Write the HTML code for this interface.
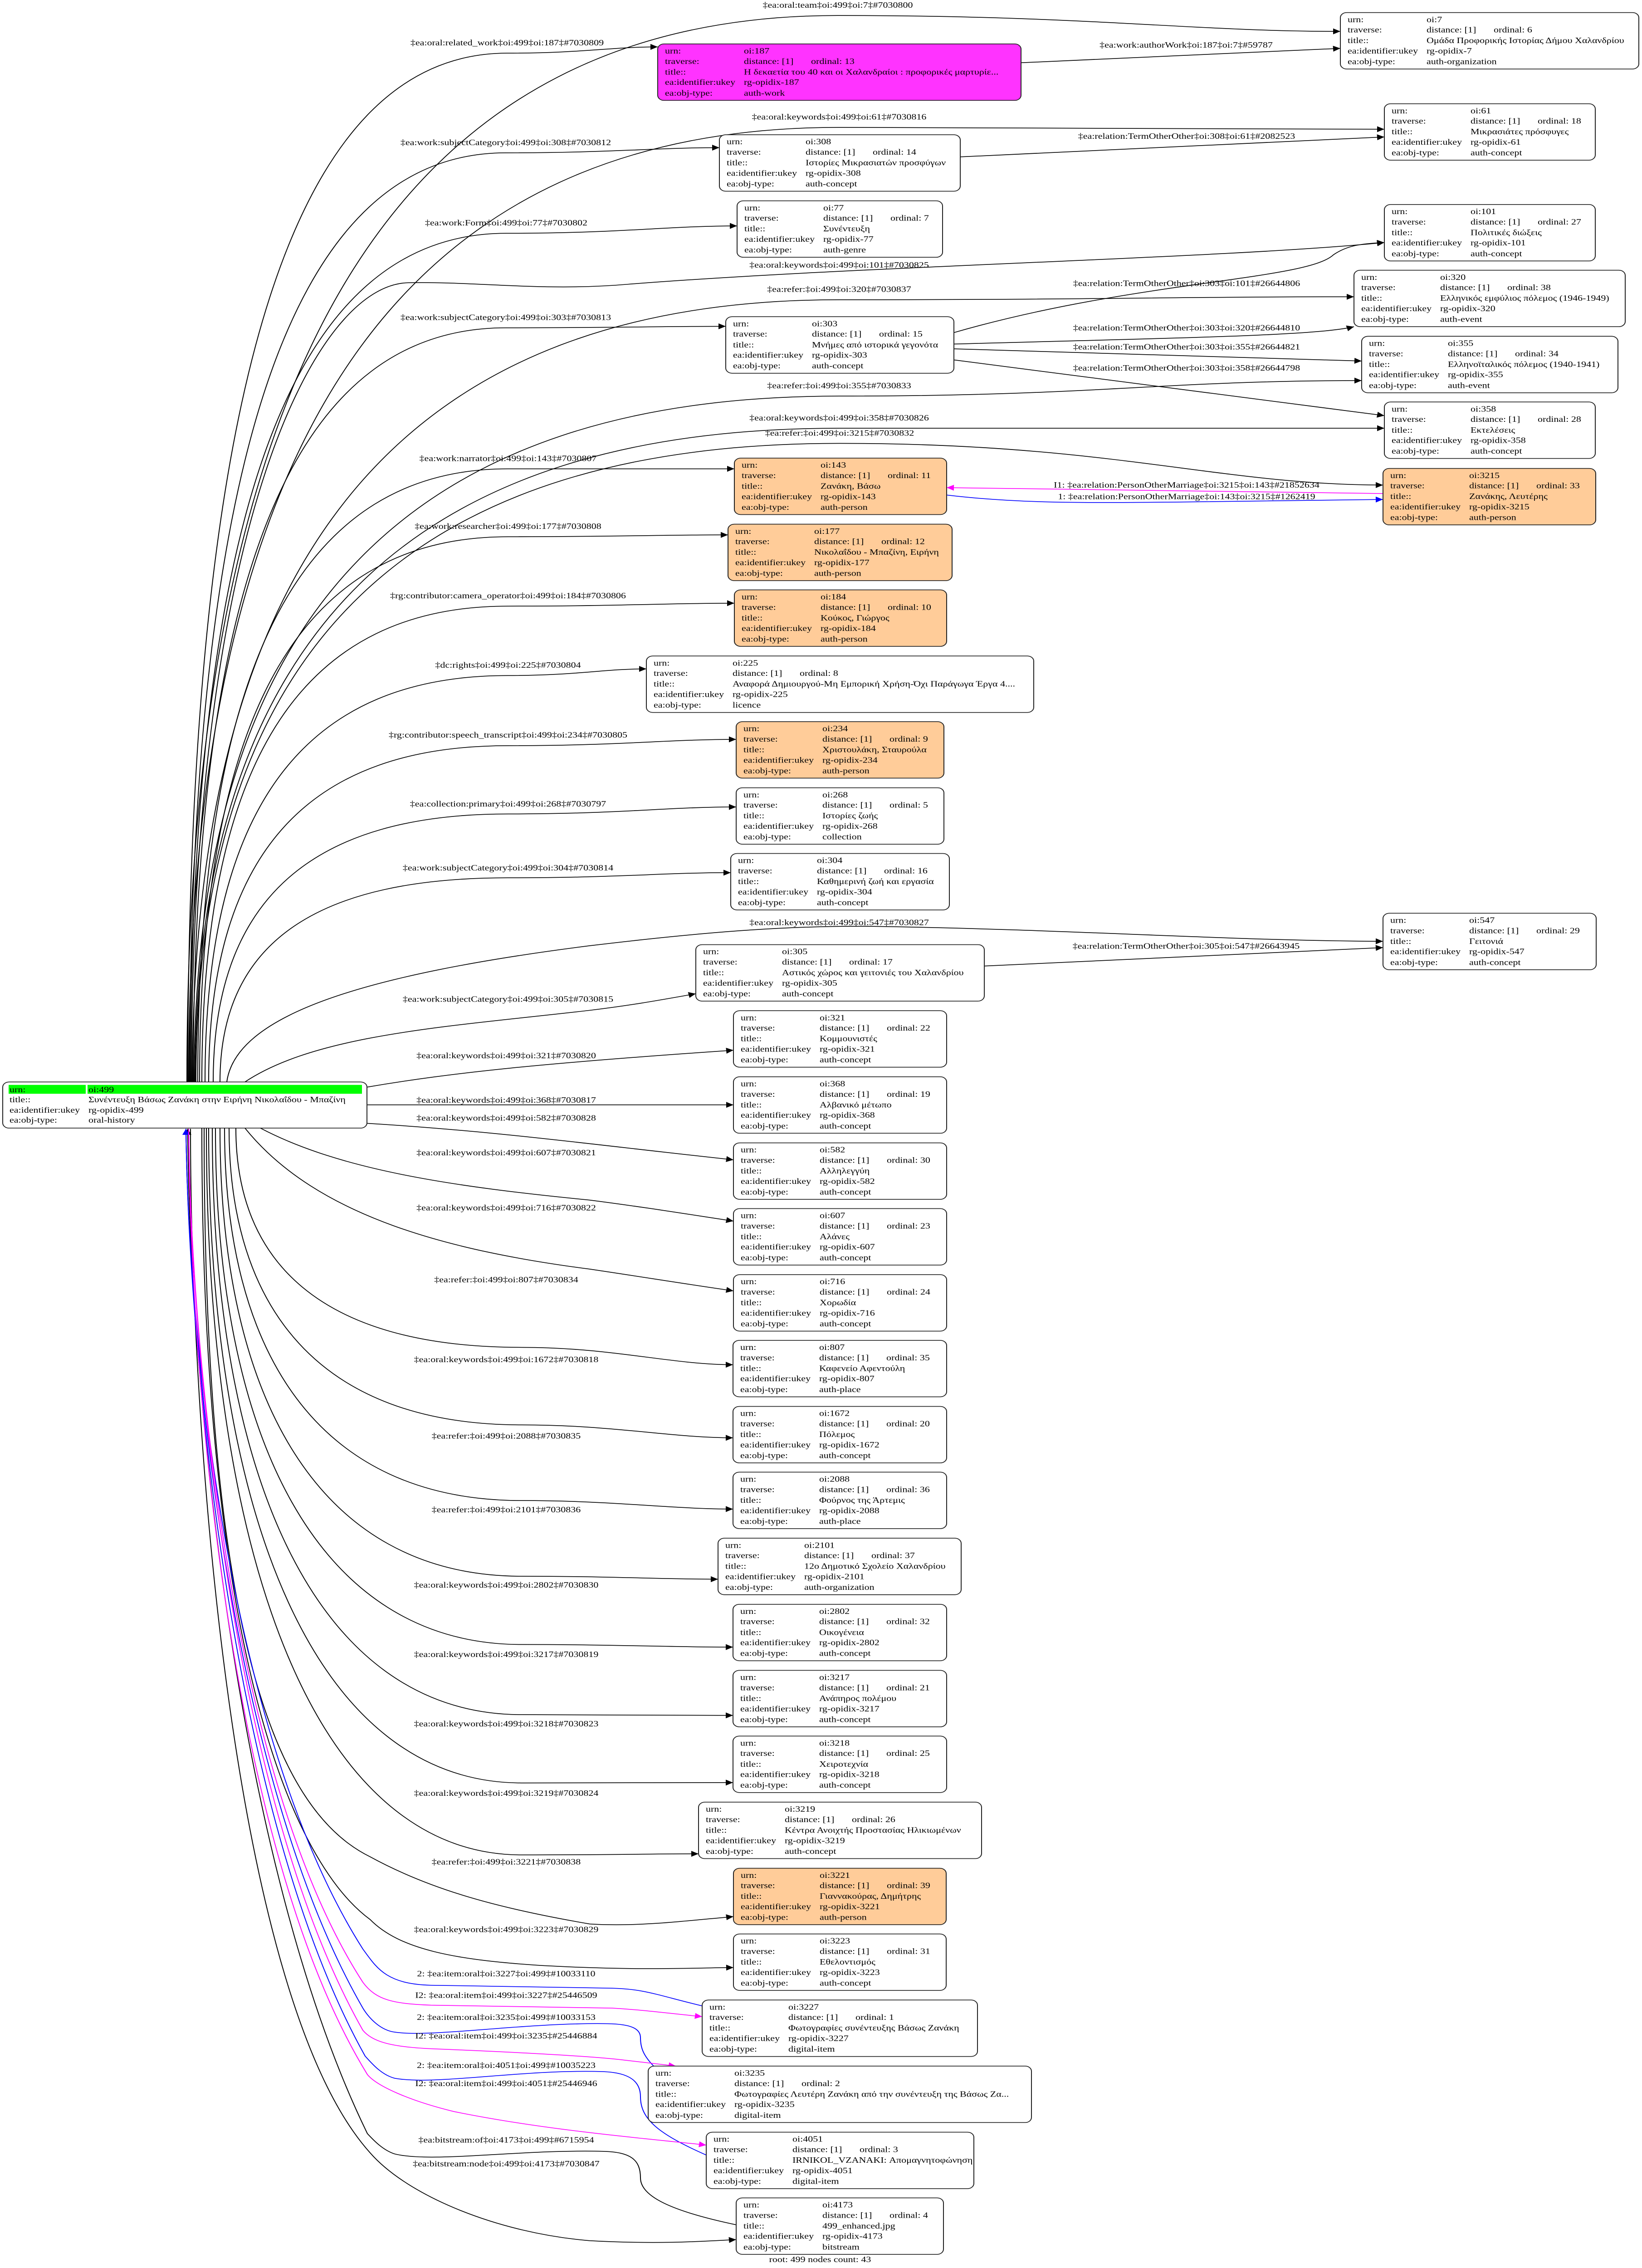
<!DOCTYPE html>
<html><head><meta charset="utf-8">
<style>
html,body{margin:0;padding:0;background:#fff;width:100%;height:100%;overflow:hidden;}
svg{display:block;position:fixed;left:0;top:0;width:100vw;height:100vh;}
text{font-family:"Liberation Serif","DejaVu Serif",serif;font-size:22px;fill:#000;}
.n rect.b{stroke:#222;stroke-width:2;}
.e{fill:none;stroke:#000;stroke-width:2;}
.bl{fill:none;stroke:#0000ff;stroke-width:2;}
.mg{fill:none;stroke:#ff00ff;stroke-width:2;}
.lc{text-anchor:middle;}
</style></head><body>
<svg viewBox="0 0 3620 6144" preserveAspectRatio="none" xmlns="http://www.w3.org/2000/svg">
<defs>
<marker id="ak" viewBox="0 0 10 10" refX="10" refY="5" markerWidth="22" markerHeight="16" markerUnits="userSpaceOnUse" orient="auto"><path d="M0,0L10,5L0,10z" fill="#000"/></marker>
<marker id="ab" viewBox="0 0 10 10" refX="10" refY="5" markerWidth="22" markerHeight="16" markerUnits="userSpaceOnUse" orient="auto"><path d="M0,0L10,5L0,10z" fill="#0000ff"/></marker>
<marker id="am" viewBox="0 0 10 10" refX="10" refY="5" markerWidth="22" markerHeight="16" markerUnits="userSpaceOnUse" orient="auto"><path d="M0,0L10,5L0,10z" fill="#ff00ff"/></marker>
</defs>
<rect width="3620" height="6144" fill="#fff"/>

<g marker-end="url(#ak)">
<path class="e" d="M412,2931 C412,909 914,42 1847,42 C2401,42 2623,85 2955,85"/>
<path class="e" d="M414,2931 C414,980 661,144 1118,144 C1284,144 1350,127 1450,127"/>
<path class="e" d="M416,2931 C416,1121 918,345 1850,345 C2451,345 2691,350 3052,350"/>
<path class="e" d="M418,2931 C418,1169 662,414 1115,414 C1350,414 1445,400 1586,400"/>
<path class="e" d="M420,2931 C420,1322 664,632 1116,632 C1370,632 1472,612 1625,612"/>
<path class="e" d="M422,2931 C422,1400 700,770 900,766 C1050,762 1200,790 1385,770 C1900,720 2700,700 3052,657"/>
<path class="e" d="M424,2931 C424,1448 923,812 1850,812 C2417,812 2584,804 2985,804"/>
<path class="e" d="M426,2931 C426,1501 667,888 1115,888 C1357,888 1446,884 1600,884"/>
<path class="e" d="M428,2931 C428,1630 926,1073 1850,1073 C2426,1073 2557,1031 3002,1031"/>
<path class="e" d="M430,2931 C430,1691 928,1160 1850,1160 C2450,1160 2690,1160 3052,1160"/>
<path class="e" d="M432,2931 C432,1720 929,1201 1851,1201 C2450,1201 2689,1314 3049,1314"/>
<path class="e" d="M436,2931 C436,1768 676,1270 1120,1270 C1370,1270 1470,1270 1619,1270"/>
<path class="e" d="M440,2931 C440,1897 678,1454 1120,1454 C1362,1454 1450,1449 1605,1449"/>
<path class="e" d="M445,2931 C445,2029 681,1642 1120,1642 C1370,1642 1470,1634 1619,1634"/>
<path class="e" d="M452,2931 C452,2160 686,1830 1120,1830 C1272,1830 1330,1812 1425,1812"/>
<path class="e" d="M460,2931 C460,2293 691,2020 1120,2020 C1371,2020 1470,2003 1623,2003"/>
<path class="e" d="M470,2931 C470,2423 698,2205 1120,2205 C1371,2205 1470,2186 1623,2186"/>
<path class="e" d="M485,2931 C485,2544 708,2378 1120,2378 C1365,2378 1460,2364 1611,2364"/>
<path class="e" d="M500,2931 C520,2750 800,2640 1300,2562 C1550,2525 1750,2505 1950,2510 C2400,2520 2700,2548 3049,2550"/>
<path class="e" d="M540,2931 C700,2800 1000,2780 1300,2737 C1400,2722 1460,2708 1534,2692"/>
<path class="e" d="M2251,170 L2955,131"/>
<path class="e" d="M2117,425 L3052,371"/>
<path class="e" d="M2103,901 C2500,760 2880,760 2940,690 C2970,665 3000,660 3052,657"/>
<path class="e" d="M2103,932 C2600,915 2900,910 2985,885"/>
<path class="e" d="M2103,945 L3002,978"/>
<path class="e" d="M2103,975 L3052,1126"/>
<path class="e" d="M2170,2617 L3049,2567"/>
<path class="e" d="M809,2945 C1000,2905 1200,2880 1617,2845"/>
<path class="e" d="M809,2993 L1617,2993"/>
<path class="e" d="M809,3043 C1100,3065 1300,3100 1617,3142"/>
<path class="e" d="M574,3056 C750,3170 1000,3215 1300,3251 C1420,3270 1520,3290 1617,3308"/>
<path class="e" d="M540,3056 C700,3300 1000,3390 1300,3438 C1420,3460 1520,3480 1617,3497"/>
<path class="e" d="M520,3056 C520,3412 700,3650 1150,3650 C1350,3650 1480,3697 1616,3697"/>
<path class="e" d="M505,3056 C505,3538 700,3860 1150,3860 C1350,3860 1480,3895 1616,3895"/>
<path class="e" d="M495,3056 C495,3663 700,4065 1150,4065 C1350,4065 1480,4088 1616,4088"/>
<path class="e" d="M485,3056 C485,3784 700,4270 1150,4270 C1350,4270 1450,4278 1583,4278"/>
<path class="e" d="M475,3056 C475,3895 700,4455 1150,4455 C1350,4455 1480,4462 1616,4462"/>
<path class="e" d="M468,3056 C468,4009 700,4645 1150,4645 C1350,4645 1480,4647 1616,4647"/>
<path class="e" d="M460,3056 C460,4120 700,4830 1150,4830 C1350,4830 1450,4829 1616,4829"/>
<path class="e" d="M455,3056 C455,4237 700,5025 1150,5025 C1350,5025 1420,5022 1540,5022"/>
<path class="e" d="M450,3056 C450,4400 600,4900 816,5030 C950,5120 1100,5170 1300,5212 C1400,5220 1500,5205 1617,5192"/>
<path class="e" d="M445,3056 C445,4500 650,5050 816,5200 C880,5280 1000,5310 1200,5325 C1400,5338 1500,5332 1617,5330"/>
<path class="e" d="M420,3058 C420,3800 500,5400 816,5832 C900,5950 1100,6050 1300,6070 C1450,6080 1550,6072 1623,6067"/>
<path class="e" d="M1623,6027 C1480,5990 1412,5950 1412,5900 C1412,5850 1390,5830 1330,5828 C1150,5822 950,5860 870,5835 C845,5825 825,5800 810,5780 C500,5000 415,3600 414,3058"/>
</g>
<g marker-end="url(#ab)">
<path class="bl" d="M1548,5434 C1450,5405 1420,5388 1350,5386 L950,5378 C850,5375 830,5330 800,5280 C500,4700 415,3600 410,3058"/>
<path class="bl" d="M1441,5597 C1420,5570 1412,5550 1412,5520 C1412,5490 1380,5482 1330,5482 C1150,5480 950,5520 870,5505 C840,5500 815,5470 800,5440 C500,4800 415,3600 410,3058"/>
<path class="bl" d="M1557,5838 C1450,5780 1412,5740 1412,5680 C1412,5640 1390,5615 1330,5612 C1150,5605 960,5650 870,5630 C840,5620 820,5590 805,5570 C500,4900 415,3600 410,3058"/>
<path class="bl" d="M2087,1341 C2250,1365 2400,1362 2600,1360 L3049,1353"/>
</g>
<g marker-end="url(#am)">
<path class="mg" d="M416,3058 C420,3600 500,4800 800,5370 C830,5420 870,5428 950,5432 L1350,5440 C1420,5445 1480,5455 1548,5463"/>
<path class="mg" d="M416,3058 C420,3600 500,4850 800,5500 C820,5530 860,5545 950,5550 C1150,5560 1300,5570 1371,5580 L1490,5597"/>
<path class="mg" d="M416,3058 C420,3700 500,5000 810,5620 C830,5650 900,5690 1000,5720 C1200,5770 1400,5790 1557,5811"/>
<path class="mg" d="M3049,1337 L2087,1321"/>
</g>

<g class="lc">
<text x="1847" y="21">‡ea:oral:team‡oi:499‡oi:7‡#7030800</text>
<text x="1118" y="123">‡ea:oral:related_work‡oi:499‡oi:187‡#7030809</text>
<text x="2615" y="129">‡ea:work:authorWork‡oi:187‡oi:7‡#59787</text>
<text x="1850" y="324">‡ea:oral:keywords‡oi:499‡oi:61‡#7030816</text>
<text x="2616" y="376">‡ea:relation:TermOtherOther‡oi:308‡oi:61‡#2082523</text>
<text x="1115" y="393">‡ea:work:subjectCategory‡oi:499‡oi:308‡#7030812</text>
<text x="1116" y="611">‡ea:work:Form‡oi:499‡oi:77‡#7030802</text>
<text x="1850" y="725">‡ea:oral:keywords‡oi:499‡oi:101‡#7030825</text>
<text x="2616" y="775">‡ea:relation:TermOtherOther‡oi:303‡oi:101‡#26644806</text>
<text x="1850" y="791">‡ea:refer:‡oi:499‡oi:320‡#7030837</text>
<text x="1115" y="867">‡ea:work:subjectCategory‡oi:499‡oi:303‡#7030813</text>
<text x="2616" y="895">‡ea:relation:TermOtherOther‡oi:303‡oi:320‡#26644810</text>
<text x="2616" y="947">‡ea:relation:TermOtherOther‡oi:303‡oi:355‡#26644821</text>
<text x="2616" y="1004">‡ea:relation:TermOtherOther‡oi:303‡oi:358‡#26644798</text>
<text x="1850" y="1052">‡ea:refer:‡oi:499‡oi:355‡#7030833</text>
<text x="1850" y="1139">‡ea:oral:keywords‡oi:499‡oi:358‡#7030826</text>
<text x="1851" y="1180">‡ea:refer:‡oi:499‡oi:3215‡#7030832</text>
<text x="1120" y="1249">‡ea:work:narrator‡oi:499‡oi:143‡#7030807</text>
<text x="2616" y="1321">I1: ‡ea:relation:PersonOtherMarriage‡oi:3215‡oi:143‡#21852634</text>
<text x="2616" y="1352">1: ‡ea:relation:PersonOtherMarriage‡oi:143‡oi:3215‡#1262419</text>
<text x="1120" y="1433">‡ea:work:researcher‡oi:499‡oi:177‡#7030808</text>
<text x="1120" y="1621">‡rg:contributor:camera_operator‡oi:499‡oi:184‡#7030806</text>
<text x="1120" y="1809">‡dc:rights‡oi:499‡oi:225‡#7030804</text>
<text x="1120" y="1998">‡rg:contributor:speech_transcript‡oi:499‡oi:234‡#7030805</text>
<text x="1120" y="2185">‡ea:collection:primary‡oi:499‡oi:268‡#7030797</text>
<text x="1120" y="2358">‡ea:work:subjectCategory‡oi:499‡oi:304‡#7030814</text>
<text x="1850" y="2506">‡ea:oral:keywords‡oi:499‡oi:547‡#7030827</text>
<text x="2615" y="2570">‡ea:relation:TermOtherOther‡oi:305‡oi:547‡#26643945</text>
<text x="1120" y="2714">‡ea:work:subjectCategory‡oi:499‡oi:305‡#7030815</text>
<text x="1116" y="2867">‡ea:oral:keywords‡oi:499‡oi:321‡#7030820</text>
<text x="1116" y="2987">‡ea:oral:keywords‡oi:499‡oi:368‡#7030817</text>
<text x="1116" y="3036">‡ea:oral:keywords‡oi:499‡oi:582‡#7030828</text>
<text x="1116" y="3130">‡ea:oral:keywords‡oi:499‡oi:607‡#7030821</text>
<text x="1116" y="3279">‡ea:oral:keywords‡oi:499‡oi:716‡#7030822</text>
<text x="1116" y="3474">‡ea:refer:‡oi:499‡oi:807‡#7030834</text>
<text x="1116" y="3690">‡ea:oral:keywords‡oi:499‡oi:1672‡#7030818</text>
<text x="1116" y="3897">‡ea:refer:‡oi:499‡oi:2088‡#7030835</text>
<text x="1116" y="4097">‡ea:refer:‡oi:499‡oi:2101‡#7030836</text>
<text x="1116" y="4301">‡ea:oral:keywords‡oi:499‡oi:2802‡#7030830</text>
<text x="1116" y="4489">‡ea:oral:keywords‡oi:499‡oi:3217‡#7030819</text>
<text x="1116" y="4677">‡ea:oral:keywords‡oi:499‡oi:3218‡#7030823</text>
<text x="1116" y="4865">‡ea:oral:keywords‡oi:499‡oi:3219‡#7030824</text>
<text x="1116" y="5051">‡ea:refer:‡oi:499‡oi:3221‡#7030838</text>
<text x="1116" y="5234">‡ea:oral:keywords‡oi:499‡oi:3223‡#7030829</text>
<text x="1116" y="5354">2: ‡ea:item:oral‡oi:3227‡oi:499‡#10033110</text>
<text x="1116" y="5412">I2: ‡ea:oral:item‡oi:499‡oi:3227‡#25446509</text>
<text x="1116" y="5472">2: ‡ea:item:oral‡oi:3235‡oi:499‡#10033153</text>
<text x="1116" y="5522">I2: ‡ea:oral:item‡oi:499‡oi:3235‡#25446884</text>
<text x="1116" y="5602">2: ‡ea:item:oral‡oi:4051‡oi:499‡#10035223</text>
<text x="1116" y="5651">I2: ‡ea:oral:item‡oi:499‡oi:4051‡#25446946</text>
<text x="1116" y="5804">‡ea:bitstream:of‡oi:4173‡oi:499‡#6715954</text>
<text x="1116" y="5869">‡ea:bitstream:node‡oi:499‡oi:4173‡#7030847</text>
<text x="1808" y="6128">root: 499 nodes count: 43</text>
</g>

<g class="n" transform="translate(6,2931)">
<rect class="b" x="0" y="0" width="803" height="125" rx="14" fill="#fff"/>
<rect x="13" y="8" width="170" height="24" fill="#00ff00"/>
<rect x="187" y="8" width="605" height="24" fill="#00ff00"/>
<text x="15" y="28">urn:</text><text x="189" y="28">oi:499</text>
<text x="15" y="55">title::</text><text x="189" y="55">Συνέντευξη Βάσως Ζανάκη στην Ειρήνη Νικολαΐδου - Μπαζίνη</text>
<text x="15" y="83">ea:identifier:ukey</text><text x="189" y="83">rg-opidix-499</text>
<text x="15" y="110">ea:obj-type:</text><text x="189" y="110">oral-history</text>
</g>

<g class="n" transform="translate(2955,34)"><rect class="b" width="658" height="153" rx="14" fill="#fff"/><text x="16" y="26">urn:</text><text x="190" y="26">oi:7</text><text x="16" y="54">traverse:</text><text x="190" y="54">distance: [1]</text><text x="338" y="54">ordinal: 6</text><text x="16" y="83">title::</text><text x="190" y="83">Ομάδα Προφορικής Ιστορίας Δήμου Χαλανδρίου</text><text x="16" y="111">ea:identifier:ukey</text><text x="190" y="111">rg-opidix-7</text><text x="16" y="140">ea:obj-type:</text><text x="190" y="140">auth-organization</text></g>

<g class="n" transform="translate(1450,119)"><rect class="b" width="801" height="153" rx="14" fill="#ff33ff"/><text x="16" y="26">urn:</text><text x="190" y="26">oi:187</text><text x="16" y="54">traverse:</text><text x="190" y="54">distance: [1]</text><text x="338" y="54">ordinal: 13</text><text x="16" y="83">title::</text><text x="190" y="83">Η δεκαετία του 40 και οι Χαλανδραίοι : προφορικές μαρτυρίε...</text><text x="16" y="111">ea:identifier:ukey</text><text x="190" y="111">rg-opidix-187</text><text x="16" y="140">ea:obj-type:</text><text x="190" y="140">auth-work</text></g>

<g class="n" transform="translate(3052,281)"><rect class="b" width="465" height="153" rx="14" fill="#fff"/><text x="16" y="26">urn:</text><text x="190" y="26">oi:61</text><text x="16" y="54">traverse:</text><text x="190" y="54">distance: [1]</text><text x="338" y="54">ordinal: 18</text><text x="16" y="83">title::</text><text x="190" y="83">Μικρασιάτες πρόσφυγες</text><text x="16" y="111">ea:identifier:ukey</text><text x="190" y="111">rg-opidix-61</text><text x="16" y="140">ea:obj-type:</text><text x="190" y="140">auth-concept</text></g>

<g class="n" transform="translate(1586,365)"><rect class="b" width="531" height="153" rx="14" fill="#fff"/><text x="16" y="26">urn:</text><text x="190" y="26">oi:308</text><text x="16" y="54">traverse:</text><text x="190" y="54">distance: [1]</text><text x="338" y="54">ordinal: 14</text><text x="16" y="83">title::</text><text x="190" y="83">Ιστορίες Μικρασιατών προσφύγων</text><text x="16" y="111">ea:identifier:ukey</text><text x="190" y="111">rg-opidix-308</text><text x="16" y="140">ea:obj-type:</text><text x="190" y="140">auth-concept</text></g>

<g class="n" transform="translate(1625,544)"><rect class="b" width="453" height="153" rx="14" fill="#fff"/><text x="16" y="26">urn:</text><text x="190" y="26">oi:77</text><text x="16" y="54">traverse:</text><text x="190" y="54">distance: [1]</text><text x="338" y="54">ordinal: 7</text><text x="16" y="83">title::</text><text x="190" y="83">Συνέντευξη</text><text x="16" y="111">ea:identifier:ukey</text><text x="190" y="111">rg-opidix-77</text><text x="16" y="140">ea:obj-type:</text><text x="190" y="140">auth-genre</text></g>

<g class="n" transform="translate(3052,554)"><rect class="b" width="465" height="153" rx="14" fill="#fff"/><text x="16" y="26">urn:</text><text x="190" y="26">oi:101</text><text x="16" y="54">traverse:</text><text x="190" y="54">distance: [1]</text><text x="338" y="54">ordinal: 27</text><text x="16" y="83">title::</text><text x="190" y="83">Πολιτικές διώξεις</text><text x="16" y="111">ea:identifier:ukey</text><text x="190" y="111">rg-opidix-101</text><text x="16" y="140">ea:obj-type:</text><text x="190" y="140">auth-concept</text></g>

<g class="n" transform="translate(2985,732)"><rect class="b" width="598" height="153" rx="14" fill="#fff"/><text x="16" y="26">urn:</text><text x="190" y="26">oi:320</text><text x="16" y="54">traverse:</text><text x="190" y="54">distance: [1]</text><text x="338" y="54">ordinal: 38</text><text x="16" y="83">title::</text><text x="190" y="83">Ελληνικός εμφύλιος πόλεμος (1946-1949)</text><text x="16" y="111">ea:identifier:ukey</text><text x="190" y="111">rg-opidix-320</text><text x="16" y="140">ea:obj-type:</text><text x="190" y="140">auth-event</text></g>

<g class="n" transform="translate(1600,858)"><rect class="b" width="503" height="153" rx="14" fill="#fff"/><text x="16" y="26">urn:</text><text x="190" y="26">oi:303</text><text x="16" y="54">traverse:</text><text x="190" y="54">distance: [1]</text><text x="338" y="54">ordinal: 15</text><text x="16" y="83">title::</text><text x="190" y="83">Μνήμες από ιστορικά γεγονότα</text><text x="16" y="111">ea:identifier:ukey</text><text x="190" y="111">rg-opidix-303</text><text x="16" y="140">ea:obj-type:</text><text x="190" y="140">auth-concept</text></g>

<g class="n" transform="translate(3002,911)"><rect class="b" width="565" height="153" rx="14" fill="#fff"/><text x="16" y="26">urn:</text><text x="190" y="26">oi:355</text><text x="16" y="54">traverse:</text><text x="190" y="54">distance: [1]</text><text x="338" y="54">ordinal: 34</text><text x="16" y="83">title::</text><text x="190" y="83">Ελληνοϊταλικός πόλεμος (1940-1941)</text><text x="16" y="111">ea:identifier:ukey</text><text x="190" y="111">rg-opidix-355</text><text x="16" y="140">ea:obj-type:</text><text x="190" y="140">auth-event</text></g>

<g class="n" transform="translate(3052,1089)"><rect class="b" width="465" height="153" rx="14" fill="#fff"/><text x="16" y="26">urn:</text><text x="190" y="26">oi:358</text><text x="16" y="54">traverse:</text><text x="190" y="54">distance: [1]</text><text x="338" y="54">ordinal: 28</text><text x="16" y="83">title::</text><text x="190" y="83">Εκτελέσεις</text><text x="16" y="111">ea:identifier:ukey</text><text x="190" y="111">rg-opidix-358</text><text x="16" y="140">ea:obj-type:</text><text x="190" y="140">auth-concept</text></g>

<g class="n" transform="translate(3049,1269)"><rect class="b" width="469" height="153" rx="14" fill="#ffcc99"/><text x="16" y="26">urn:</text><text x="190" y="26">oi:3215</text><text x="16" y="54">traverse:</text><text x="190" y="54">distance: [1]</text><text x="338" y="54">ordinal: 33</text><text x="16" y="83">title::</text><text x="190" y="83">Ζανάκης, Λευτέρης</text><text x="16" y="111">ea:identifier:ukey</text><text x="190" y="111">rg-opidix-3215</text><text x="16" y="140">ea:obj-type:</text><text x="190" y="140">auth-person</text></g>

<g class="n" transform="translate(1619,1241)"><rect class="b" width="468" height="153" rx="14" fill="#ffcc99"/><text x="16" y="26">urn:</text><text x="190" y="26">oi:143</text><text x="16" y="54">traverse:</text><text x="190" y="54">distance: [1]</text><text x="338" y="54">ordinal: 11</text><text x="16" y="83">title::</text><text x="190" y="83">Ζανάκη, Βάσω</text><text x="16" y="111">ea:identifier:ukey</text><text x="190" y="111">rg-opidix-143</text><text x="16" y="140">ea:obj-type:</text><text x="190" y="140">auth-person</text></g>

<g class="n" transform="translate(1605,1420)"><rect class="b" width="494" height="153" rx="14" fill="#ffcc99"/><text x="16" y="26">urn:</text><text x="190" y="26">oi:177</text><text x="16" y="54">traverse:</text><text x="190" y="54">distance: [1]</text><text x="338" y="54">ordinal: 12</text><text x="16" y="83">title::</text><text x="190" y="83">Νικολαΐδου - Μπαζίνη, Ειρήνη</text><text x="16" y="111">ea:identifier:ukey</text><text x="190" y="111">rg-opidix-177</text><text x="16" y="140">ea:obj-type:</text><text x="190" y="140">auth-person</text></g>

<g class="n" transform="translate(1619,1598)"><rect class="b" width="468" height="153" rx="14" fill="#ffcc99"/><text x="16" y="26">urn:</text><text x="190" y="26">oi:184</text><text x="16" y="54">traverse:</text><text x="190" y="54">distance: [1]</text><text x="338" y="54">ordinal: 10</text><text x="16" y="83">title::</text><text x="190" y="83">Κούκος, Γιώργος</text><text x="16" y="111">ea:identifier:ukey</text><text x="190" y="111">rg-opidix-184</text><text x="16" y="140">ea:obj-type:</text><text x="190" y="140">auth-person</text></g>

<g class="n" transform="translate(1425,1777)"><rect class="b" width="854" height="153" rx="14" fill="#fff"/><text x="16" y="26">urn:</text><text x="190" y="26">oi:225</text><text x="16" y="54">traverse:</text><text x="190" y="54">distance: [1]</text><text x="338" y="54">ordinal: 8</text><text x="16" y="83">title::</text><text x="190" y="83">Αναφορά Δημιουργού-Μη Εμπορική Χρήση-Όχι Παράγωγα Έργα 4....</text><text x="16" y="111">ea:identifier:ukey</text><text x="190" y="111">rg-opidix-225</text><text x="16" y="140">ea:obj-type:</text><text x="190" y="140">licence</text></g>

<g class="n" transform="translate(1623,1955)"><rect class="b" width="458" height="153" rx="14" fill="#ffcc99"/><text x="16" y="26">urn:</text><text x="190" y="26">oi:234</text><text x="16" y="54">traverse:</text><text x="190" y="54">distance: [1]</text><text x="338" y="54">ordinal: 9</text><text x="16" y="83">title::</text><text x="190" y="83">Χριστουλάκη, Σταυρούλα</text><text x="16" y="111">ea:identifier:ukey</text><text x="190" y="111">rg-opidix-234</text><text x="16" y="140">ea:obj-type:</text><text x="190" y="140">auth-person</text></g>

<g class="n" transform="translate(1623,2134)"><rect class="b" width="458" height="153" rx="14" fill="#fff"/><text x="16" y="26">urn:</text><text x="190" y="26">oi:268</text><text x="16" y="54">traverse:</text><text x="190" y="54">distance: [1]</text><text x="338" y="54">ordinal: 5</text><text x="16" y="83">title::</text><text x="190" y="83">Ιστορίες ζωής</text><text x="16" y="111">ea:identifier:ukey</text><text x="190" y="111">rg-opidix-268</text><text x="16" y="140">ea:obj-type:</text><text x="190" y="140">collection</text></g>

<g class="n" transform="translate(1611,2312)"><rect class="b" width="482" height="153" rx="14" fill="#fff"/><text x="16" y="26">urn:</text><text x="190" y="26">oi:304</text><text x="16" y="54">traverse:</text><text x="190" y="54">distance: [1]</text><text x="338" y="54">ordinal: 16</text><text x="16" y="83">title::</text><text x="190" y="83">Καθημερινή ζωή και εργασία</text><text x="16" y="111">ea:identifier:ukey</text><text x="190" y="111">rg-opidix-304</text><text x="16" y="140">ea:obj-type:</text><text x="190" y="140">auth-concept</text></g>

<g class="n" transform="translate(3049,2474)"><rect class="b" width="470" height="153" rx="14" fill="#fff"/><text x="16" y="26">urn:</text><text x="190" y="26">oi:547</text><text x="16" y="54">traverse:</text><text x="190" y="54">distance: [1]</text><text x="338" y="54">ordinal: 29</text><text x="16" y="83">title::</text><text x="190" y="83">Γειτονιά</text><text x="16" y="111">ea:identifier:ukey</text><text x="190" y="111">rg-opidix-547</text><text x="16" y="140">ea:obj-type:</text><text x="190" y="140">auth-concept</text></g>

<g class="n" transform="translate(1534,2559)"><rect class="b" width="636" height="153" rx="14" fill="#fff"/><text x="16" y="26">urn:</text><text x="190" y="26">oi:305</text><text x="16" y="54">traverse:</text><text x="190" y="54">distance: [1]</text><text x="338" y="54">ordinal: 17</text><text x="16" y="83">title::</text><text x="190" y="83">Αστικός χώρος και γειτονιές του Χαλανδρίου</text><text x="16" y="111">ea:identifier:ukey</text><text x="190" y="111">rg-opidix-305</text><text x="16" y="140">ea:obj-type:</text><text x="190" y="140">auth-concept</text></g>

<g class="n" transform="translate(1617,2738)"><rect class="b" width="470" height="153" rx="14" fill="#fff"/><text x="16" y="26">urn:</text><text x="190" y="26">oi:321</text><text x="16" y="54">traverse:</text><text x="190" y="54">distance: [1]</text><text x="338" y="54">ordinal: 22</text><text x="16" y="83">title::</text><text x="190" y="83">Κομμουνιστές</text><text x="16" y="111">ea:identifier:ukey</text><text x="190" y="111">rg-opidix-321</text><text x="16" y="140">ea:obj-type:</text><text x="190" y="140">auth-concept</text></g>

<g class="n" transform="translate(1617,2917)"><rect class="b" width="470" height="153" rx="14" fill="#fff"/><text x="16" y="26">urn:</text><text x="190" y="26">oi:368</text><text x="16" y="54">traverse:</text><text x="190" y="54">distance: [1]</text><text x="338" y="54">ordinal: 19</text><text x="16" y="83">title::</text><text x="190" y="83">Αλβανικό μέτωπο</text><text x="16" y="111">ea:identifier:ukey</text><text x="190" y="111">rg-opidix-368</text><text x="16" y="140">ea:obj-type:</text><text x="190" y="140">auth-concept</text></g>

<g class="n" transform="translate(1617,3096)"><rect class="b" width="470" height="153" rx="14" fill="#fff"/><text x="16" y="26">urn:</text><text x="190" y="26">oi:582</text><text x="16" y="54">traverse:</text><text x="190" y="54">distance: [1]</text><text x="338" y="54">ordinal: 30</text><text x="16" y="83">title::</text><text x="190" y="83">Αλληλεγγύη</text><text x="16" y="111">ea:identifier:ukey</text><text x="190" y="111">rg-opidix-582</text><text x="16" y="140">ea:obj-type:</text><text x="190" y="140">auth-concept</text></g>

<g class="n" transform="translate(1617,3274)"><rect class="b" width="470" height="153" rx="14" fill="#fff"/><text x="16" y="26">urn:</text><text x="190" y="26">oi:607</text><text x="16" y="54">traverse:</text><text x="190" y="54">distance: [1]</text><text x="338" y="54">ordinal: 23</text><text x="16" y="83">title::</text><text x="190" y="83">Αλάνες</text><text x="16" y="111">ea:identifier:ukey</text><text x="190" y="111">rg-opidix-607</text><text x="16" y="140">ea:obj-type:</text><text x="190" y="140">auth-concept</text></g>

<g class="n" transform="translate(1617,3453)"><rect class="b" width="470" height="153" rx="14" fill="#fff"/><text x="16" y="26">urn:</text><text x="190" y="26">oi:716</text><text x="16" y="54">traverse:</text><text x="190" y="54">distance: [1]</text><text x="338" y="54">ordinal: 24</text><text x="16" y="83">title::</text><text x="190" y="83">Χορωδία</text><text x="16" y="111">ea:identifier:ukey</text><text x="190" y="111">rg-opidix-716</text><text x="16" y="140">ea:obj-type:</text><text x="190" y="140">auth-concept</text></g>

<g class="n" transform="translate(1616,3631)"><rect class="b" width="471" height="153" rx="14" fill="#fff"/><text x="16" y="26">urn:</text><text x="190" y="26">oi:807</text><text x="16" y="54">traverse:</text><text x="190" y="54">distance: [1]</text><text x="338" y="54">ordinal: 35</text><text x="16" y="83">title::</text><text x="190" y="83">Καφενείο Αφεντούλη</text><text x="16" y="111">ea:identifier:ukey</text><text x="190" y="111">rg-opidix-807</text><text x="16" y="140">ea:obj-type:</text><text x="190" y="140">auth-place</text></g>

<g class="n" transform="translate(1616,3810)"><rect class="b" width="471" height="153" rx="14" fill="#fff"/><text x="16" y="26">urn:</text><text x="190" y="26">oi:1672</text><text x="16" y="54">traverse:</text><text x="190" y="54">distance: [1]</text><text x="338" y="54">ordinal: 20</text><text x="16" y="83">title::</text><text x="190" y="83">Πόλεμος</text><text x="16" y="111">ea:identifier:ukey</text><text x="190" y="111">rg-opidix-1672</text><text x="16" y="140">ea:obj-type:</text><text x="190" y="140">auth-concept</text></g>

<g class="n" transform="translate(1616,3988)"><rect class="b" width="471" height="153" rx="14" fill="#fff"/><text x="16" y="26">urn:</text><text x="190" y="26">oi:2088</text><text x="16" y="54">traverse:</text><text x="190" y="54">distance: [1]</text><text x="338" y="54">ordinal: 36</text><text x="16" y="83">title::</text><text x="190" y="83">Φούρνος της  Άρτεμις</text><text x="16" y="111">ea:identifier:ukey</text><text x="190" y="111">rg-opidix-2088</text><text x="16" y="140">ea:obj-type:</text><text x="190" y="140">auth-place</text></g>

<g class="n" transform="translate(1583,4167)"><rect class="b" width="536" height="153" rx="14" fill="#fff"/><text x="16" y="26">urn:</text><text x="190" y="26">oi:2101</text><text x="16" y="54">traverse:</text><text x="190" y="54">distance: [1]</text><text x="338" y="54">ordinal: 37</text><text x="16" y="83">title::</text><text x="190" y="83">12ο Δημοτικό Σχολείο Χαλανδρίου</text><text x="16" y="111">ea:identifier:ukey</text><text x="190" y="111">rg-opidix-2101</text><text x="16" y="140">ea:obj-type:</text><text x="190" y="140">auth-organization</text></g>

<g class="n" transform="translate(1616,4346)"><rect class="b" width="471" height="153" rx="14" fill="#fff"/><text x="16" y="26">urn:</text><text x="190" y="26">oi:2802</text><text x="16" y="54">traverse:</text><text x="190" y="54">distance: [1]</text><text x="338" y="54">ordinal: 32</text><text x="16" y="83">title::</text><text x="190" y="83">Οικογένεια</text><text x="16" y="111">ea:identifier:ukey</text><text x="190" y="111">rg-opidix-2802</text><text x="16" y="140">ea:obj-type:</text><text x="190" y="140">auth-concept</text></g>

<g class="n" transform="translate(1616,4525)"><rect class="b" width="471" height="153" rx="14" fill="#fff"/><text x="16" y="26">urn:</text><text x="190" y="26">oi:3217</text><text x="16" y="54">traverse:</text><text x="190" y="54">distance: [1]</text><text x="338" y="54">ordinal: 21</text><text x="16" y="83">title::</text><text x="190" y="83">Ανάπηρος πολέμου</text><text x="16" y="111">ea:identifier:ukey</text><text x="190" y="111">rg-opidix-3217</text><text x="16" y="140">ea:obj-type:</text><text x="190" y="140">auth-concept</text></g>

<g class="n" transform="translate(1616,4703)"><rect class="b" width="471" height="153" rx="14" fill="#fff"/><text x="16" y="26">urn:</text><text x="190" y="26">oi:3218</text><text x="16" y="54">traverse:</text><text x="190" y="54">distance: [1]</text><text x="338" y="54">ordinal: 25</text><text x="16" y="83">title::</text><text x="190" y="83">Χειροτεχνία</text><text x="16" y="111">ea:identifier:ukey</text><text x="190" y="111">rg-opidix-3218</text><text x="16" y="140">ea:obj-type:</text><text x="190" y="140">auth-concept</text></g>

<g class="n" transform="translate(1540,4882)"><rect class="b" width="624" height="153" rx="14" fill="#fff"/><text x="16" y="26">urn:</text><text x="190" y="26">oi:3219</text><text x="16" y="54">traverse:</text><text x="190" y="54">distance: [1]</text><text x="338" y="54">ordinal: 26</text><text x="16" y="83">title::</text><text x="190" y="83">Κέντρα Ανοιχτής Προστασίας Ηλικιωμένων</text><text x="16" y="111">ea:identifier:ukey</text><text x="190" y="111">rg-opidix-3219</text><text x="16" y="140">ea:obj-type:</text><text x="190" y="140">auth-concept</text></g>

<g class="n" transform="translate(1617,5061)"><rect class="b" width="469" height="153" rx="14" fill="#ffcc99"/><text x="16" y="26">urn:</text><text x="190" y="26">oi:3221</text><text x="16" y="54">traverse:</text><text x="190" y="54">distance: [1]</text><text x="338" y="54">ordinal: 39</text><text x="16" y="83">title::</text><text x="190" y="83">Γιαννακούρας, Δημήτρης</text><text x="16" y="111">ea:identifier:ukey</text><text x="190" y="111">rg-opidix-3221</text><text x="16" y="140">ea:obj-type:</text><text x="190" y="140">auth-person</text></g>

<g class="n" transform="translate(1617,5239)"><rect class="b" width="469" height="153" rx="14" fill="#fff"/><text x="16" y="26">urn:</text><text x="190" y="26">oi:3223</text><text x="16" y="54">traverse:</text><text x="190" y="54">distance: [1]</text><text x="338" y="54">ordinal: 31</text><text x="16" y="83">title::</text><text x="190" y="83">Εθελοντισμός</text><text x="16" y="111">ea:identifier:ukey</text><text x="190" y="111">rg-opidix-3223</text><text x="16" y="140">ea:obj-type:</text><text x="190" y="140">auth-concept</text></g>

<g class="n" transform="translate(1548,5418)"><rect class="b" width="607" height="153" rx="14" fill="#fff"/><text x="16" y="26">urn:</text><text x="190" y="26">oi:3227</text><text x="16" y="54">traverse:</text><text x="190" y="54">distance: [1]</text><text x="338" y="54">ordinal: 1</text><text x="16" y="83">title::</text><text x="190" y="83">Φωτογραφίες συνέντευξης Βάσως Ζανάκη</text><text x="16" y="111">ea:identifier:ukey</text><text x="190" y="111">rg-opidix-3227</text><text x="16" y="140">ea:obj-type:</text><text x="190" y="140">digital-item</text></g>

<g class="n" transform="translate(1429,5597)"><rect class="b" width="845" height="153" rx="14" fill="#fff"/><text x="16" y="26">urn:</text><text x="190" y="26">oi:3235</text><text x="16" y="54">traverse:</text><text x="190" y="54">distance: [1]</text><text x="338" y="54">ordinal: 2</text><text x="16" y="83">title::</text><text x="190" y="83">Φωτογραφίες Λευτέρη Ζανάκη από την συνέντευξη της Βάσως Ζα...</text><text x="16" y="111">ea:identifier:ukey</text><text x="190" y="111">rg-opidix-3235</text><text x="16" y="140">ea:obj-type:</text><text x="190" y="140">digital-item</text></g>

<g class="n" transform="translate(1557,5776)"><rect class="b" width="590" height="153" rx="14" fill="#fff"/><text x="16" y="26">urn:</text><text x="190" y="26">oi:4051</text><text x="16" y="54">traverse:</text><text x="190" y="54">distance: [1]</text><text x="338" y="54">ordinal: 3</text><text x="16" y="83">title::</text><text x="190" y="83">IRNIKOL_VZANAKI: Απομαγνητοφώνηση</text><text x="16" y="111">ea:identifier:ukey</text><text x="190" y="111">rg-opidix-4051</text><text x="16" y="140">ea:obj-type:</text><text x="190" y="140">digital-item</text></g>

<g class="n" transform="translate(1623,5954)"><rect class="b" width="457" height="153" rx="14" fill="#fff"/><text x="16" y="26">urn:</text><text x="190" y="26">oi:4173</text><text x="16" y="54">traverse:</text><text x="190" y="54">distance: [1]</text><text x="338" y="54">ordinal: 4</text><text x="16" y="83">title::</text><text x="190" y="83">499_enhanced.jpg</text><text x="16" y="111">ea:identifier:ukey</text><text x="190" y="111">rg-opidix-4173</text><text x="16" y="140">ea:obj-type:</text><text x="190" y="140">bitstream</text></g>

</svg>
</body></html>
